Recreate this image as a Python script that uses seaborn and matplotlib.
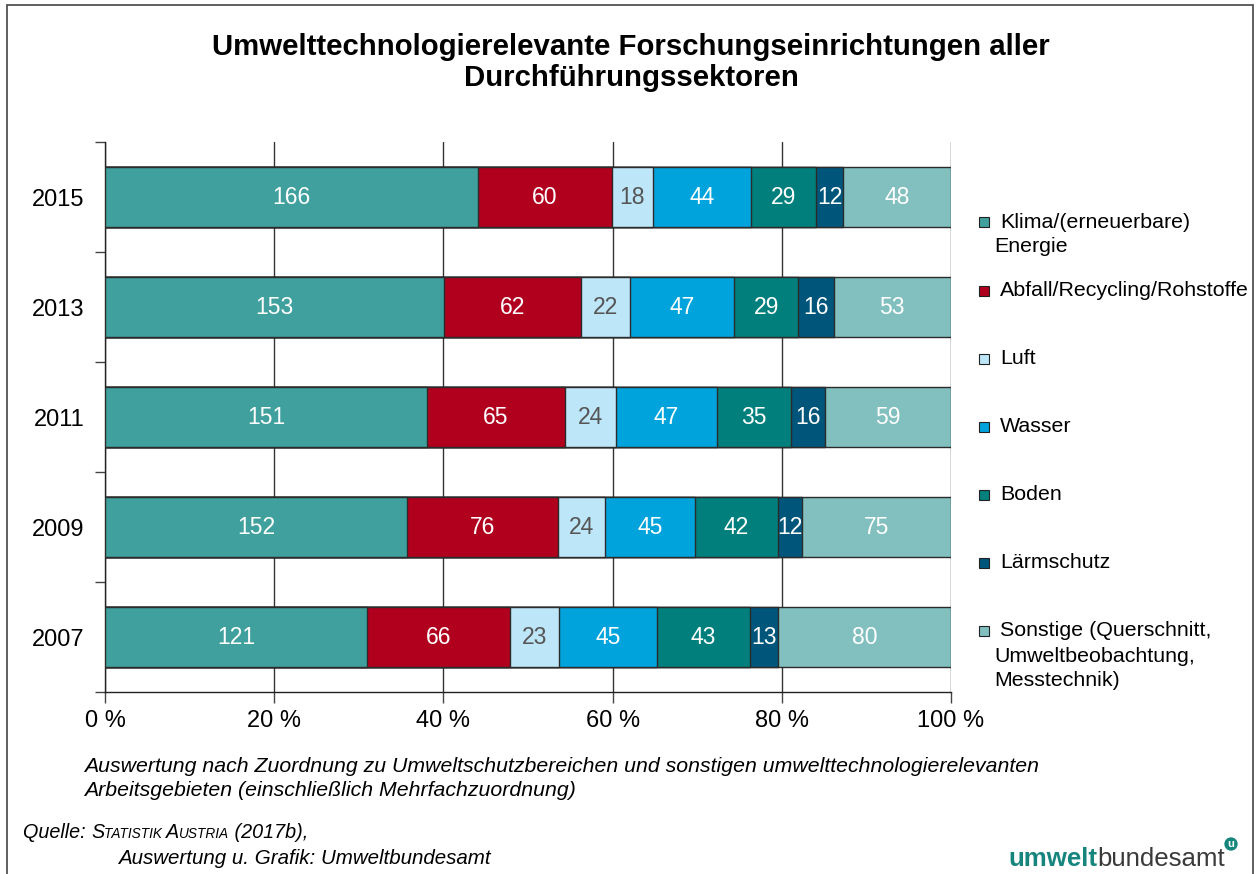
import numpy as np
import pandas as pd
import matplotlib
matplotlib.use("Agg")
import matplotlib.pyplot as plt
from matplotlib.patches import Rectangle
import seaborn as sns

# ---- data ----
years = ['2015', '2013', '2011', '2009', '2007']
categories = ['Klima/(erneuerbare)\nEnergie', 'Abfall/Recycling/Rohstoffe', 'Luft', 'Wasser',
              'Boden', 'Lärmschutz', 'Sonstige (Querschnitt,\nUmweltbeobachtung,\nMesstechnik)']
klima = [166, 153, 151, 152, 121]
abfall = [60, 62, 65, 76, 66]
luft = [18, 22, 24, 24, 23]
wasser = [44, 47, 47, 45, 45]
boden = [29, 29, 35, 42, 43]
laerm = [12, 16, 16, 12, 13]
sonstige = [48, 53, 59, 75, 80]
x_ticks = [0, 20, 40, 60, 80, 100]
x_ticklabels = ['0 %', '20 %', '40 %', '60 %', '80 %', '100 %']

colors = ['#40A09E', '#B0001E', '#BDE6F8', '#00A3DB', '#007F7D', '#00557A', '#82BFBF']
text_colors = ['white', 'white', '#555555', 'white', 'white', 'white', 'white']

series = [klima, abfall, luft, wasser, boden, laerm, sonstige]
vals = np.array(series, dtype=float)          # shape (7, 5)
pct = vals / vals.sum(axis=0) * 100
cum = np.cumsum(pct, axis=0)
left = cum - pct

df = pd.DataFrame({'year': years})
for i in range(len(series)):
    df[f'c{i}'] = cum[i]

W, H = 1256, 874
sns.set_theme(style='white')
plt.rcParams['font.family'] = ['Liberation Sans', 'DejaVu Sans']
plt.rcParams['text.color'] = 'black'
plt.rcParams['xtick.color'] = 'black'
plt.rcParams['ytick.color'] = 'black'
plt.rcParams['axes.labelcolor'] = 'black'
fig = plt.figure(figsize=(W / 100, H / 100), dpi=100)

ax_l, ax_r, ax_t, ax_b = 105, 951, 142, 692
ax = fig.add_axes([ax_l / W, 1 - ax_b / H, (ax_r - ax_l) / W, (ax_b - ax_t) / H])

for i in reversed(range(len(series))):
    sns.barplot(data=df, x=f'c{i}', y='year', order=years, orient='h', color=colors[i],
                width=0.55, edgecolor='#2b2b2b', linewidth=1.0, saturation=1, ax=ax, zorder=3)

for i in range(len(series)):
    for j in range(len(years)):
        ax.text(left[i, j] + pct[i, j] / 2, j, f'{int(vals[i, j])}', ha='center', va='center',
                fontsize=16.5, color=text_colors[i], zorder=5)

ax.set_xlim(0, 100)
ax.set_ylim(4.5, -0.5)
ax.set_xlabel('')
ax.set_ylabel('')
ax.set_xticks(x_ticks)
ax.set_xticklabels(x_ticklabels, fontsize=17, color='black')
ax.set_yticks(range(len(years)))
ax.set_yticklabels(years, fontsize=17, color='black')
ax.set_yticks(np.arange(-0.5, 5, 1), minor=True)
ax.tick_params(axis='y', which='major', length=0, pad=15)
ax.tick_params(axis='y', which='minor', length=7, width=1, color='#444444', left=True)
ax.tick_params(axis='x', which='major', length=8, width=1, color='#444444', bottom=True, pad=5)
ax.grid(axis='x', color='#333333', linewidth=1, zorder=0)
ax.grid(axis='y', visible=False)
ax.set_axisbelow(True)
for s in ['top', 'right']:
    ax.spines[s].set_visible(False)
for s in ['left', 'bottom']:
    ax.spines[s].set_visible(True)
    ax.spines[s].set_color('#222222')
    ax.spines[s].set_linewidth(1)

# ---- title ----
fig.text(631 / W, 1 - 47 / H, 'Umwelttechnologierelevante Forschungseinrichtungen aller',
         ha='center', va='center', fontsize=21.2, fontweight='bold')
fig.text(631 / W, 1 - 78 / H, 'Durchführungssektoren',
         ha='center', va='center', fontsize=21.2, fontweight='bold')

# ---- legend (manual) ----
leg_y = [222, 291, 359, 427, 495, 563, 631]
sq = 10
for i, cat in enumerate(categories):
    y = leg_y[i]
    fig.add_artist(Rectangle(((979) / W, 1 - (y + sq / 2) / H), sq / W, sq / H,
                             transform=fig.transFigure, facecolor=colors[i],
                             edgecolor='#222222', linewidth=0.8))
    lines = cat.split('\n')
    for k, line in enumerate(lines):
        x0 = 1000 if k == 0 else 994
        fig.text(x0 / W, 1 - (y + k * 25) / H, line, ha='left', va='center', fontsize=15.4)

# ---- footnotes ----
renderer = fig.canvas.get_renderer()


def runs(x, y, parts, **kw):
    for txt, props in parts:
        t = fig.text(x / W, 1 - y / H, txt, ha='left', va='baseline', **{**kw, **props})
        bb = t.get_window_extent(renderer=renderer)
        x += bb.width


fig.text(84 / W, 1 - 766 / H,
         'Auswertung nach Zuordnung zu Umweltschutzbereichen und sonstigen umwelttechnologierelevanten',
         ha='left', va='center', fontsize=15.3, style='italic')
fig.text(84 / W, 1 - 791 / H, 'Arbeitsgebieten (einschließlich Mehrfachzuordnung)',
         ha='left', va='center', fontsize=15.3, style='italic')

runs(23, 838, [('Quelle: ', {'fontsize': 14.2}), ('S', {'fontsize': 14.2}), ('TATISTIK ', {'fontsize': 9.8}),
               ('A', {'fontsize': 14.2}), ('USTRIA', {'fontsize': 9.8}), (' (2017b),', {'fontsize': 14.2})],
     style='italic', color='black')
fig.text(118 / W, 1 - 858 / H, 'Auswertung u. Grafik: Umweltbundesamt',
         ha='left', va='center', fontsize=14.8, style='italic')

# ---- logo ----
teal = '#16857D'
runs(1008, 866, [('umwelt', {'fontweight': 'bold', 'color': teal}),
                 ('bundesamt', {'fontweight': 'light', 'color': '#3a3a3a'})],
     fontsize=18.6)
fig.text(1231 / W, 1 - 844 / H, 'u', ha='center', va='center', fontsize=8, color='white',
         fontweight='bold', bbox=dict(boxstyle='circle,pad=0.15', fc=teal, ec='none'))

# ---- figure border ----
fig.add_artist(Rectangle((7 / W, -0.01), (1253 - 7) / W, 1 - 5 / H + 0.01,
                         transform=fig.transFigure, fill=False, edgecolor='#444444', linewidth=1.2))

fig.savefig('out.png', dpi=100)
